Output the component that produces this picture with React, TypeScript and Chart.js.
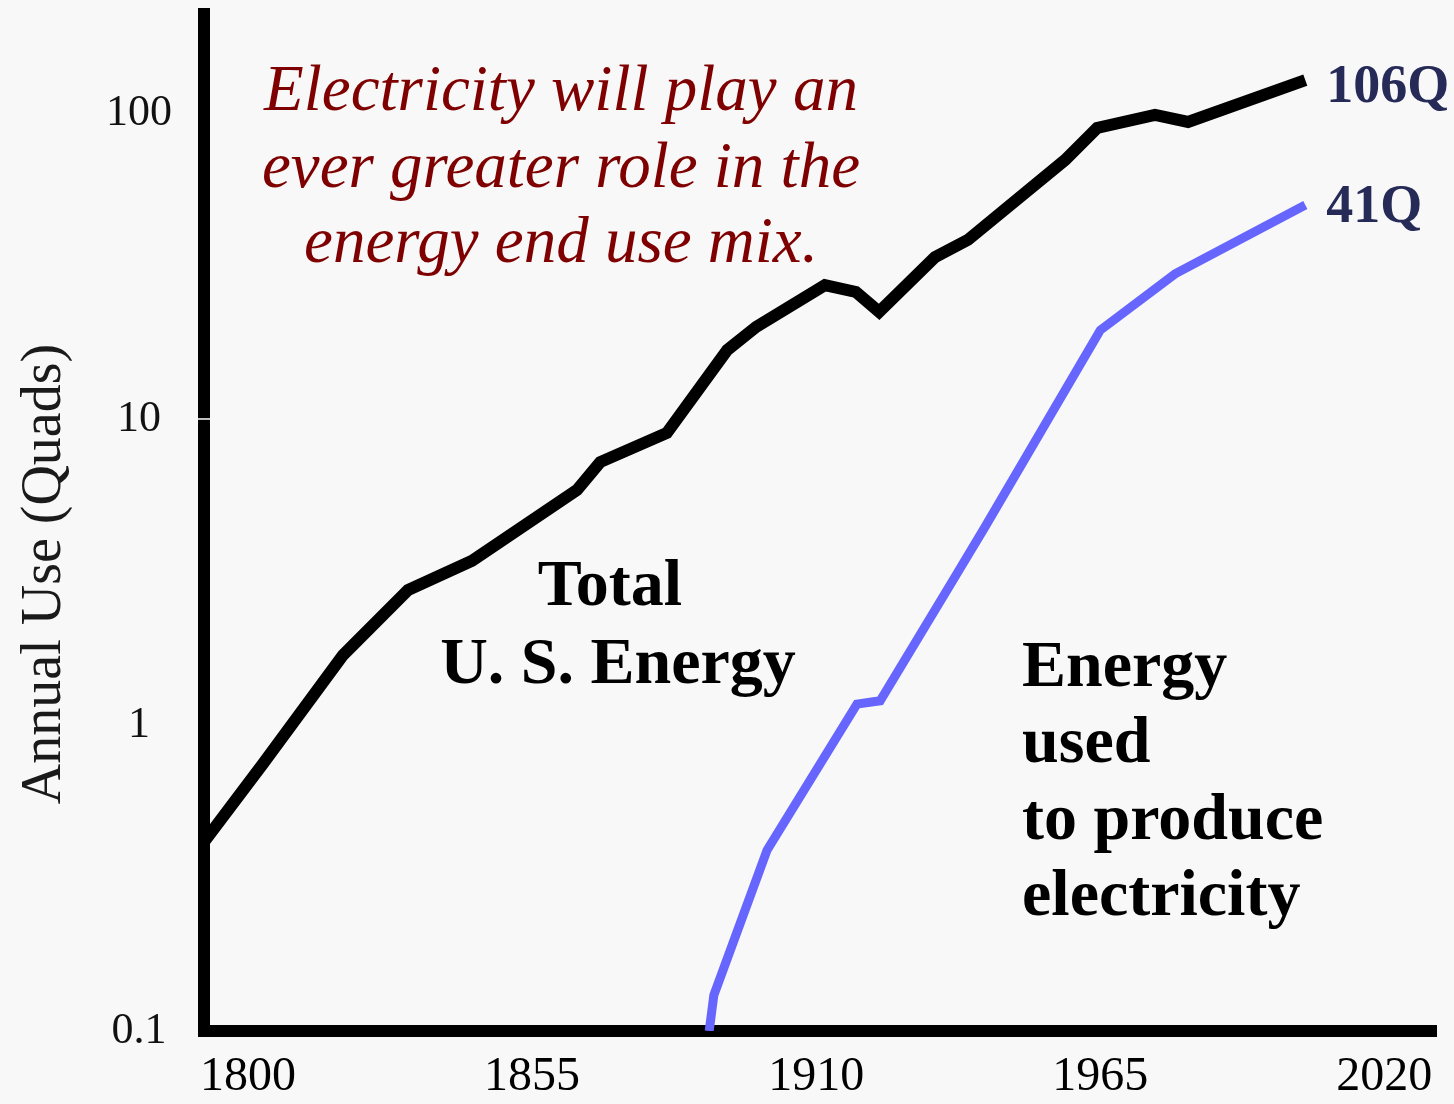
import React, { useEffect, useRef } from 'react';
import { Chart, registerables } from 'chart.js';

Chart.register(...registerables);

// ---- data ----
const totalYears = [1791.5, 1802.9, 1818.4, 1831.0, 1843.4, 1863.7, 1868.2, 1881.1, 1892.8, 1898.4, 1911.7, 1917.7, 1922.2, 1933.0, 1939.4, 1958.2, 1964.4, 1975.6, 1982.0, 2004.7];
const totalQuads = [0.415, 0.746, 1.69, 2.76, 3.44, 5.86, 7.23, 9.0, 16.8, 20.0, 27.4, 26.0, 22.4, 33.8, 38.5, 70.2, 89.3, 98.5, 93.5, 128];
const electricYears = [1889.3, 1890.2, 1900.5, 1917.9, 1922.4, 1936.9, 1942.7, 1965.0, 1979.5, 2004.7];
const electricQuads = [0.1, 0.131, 0.39, 1.17, 1.2, 3.05, 4.44, 19.5, 29.8, 50.0];
const xTicks = [1800, 1855, 1910, 1965, 2020];
const yTicks = [0.1, 1, 10, 100];
const yTickLabels = ['0.1', '1', '10', '100'];
const endLabels = ['106Q', '41Q'];
const yTitle = 'Annual Use (Quads)';
const noteLines = ['Electricity will play an', 'ever greater role in the', 'energy end use mix.'];
const totalLabelLines = ['Total', 'U. S. Energy'];
const electricLabelLines = ['Energy', 'used', 'to produce', 'electricity'];

const SERIF = '"Liberation Serif", "DejaVu Serif", serif';

const bgPlugin = {
  id: 'bgFill',
  beforeDraw(chart: any) {
    const { ctx, width, height } = chart;
    ctx.save();
    ctx.fillStyle = '#f8f8f8';
    ctx.fillRect(0, 0, width, height);
    ctx.restore();
  },
};

const textPlugin = {
  id: 'texts',
  afterDraw(chart: any) {
    const { ctx, chartArea } = chart;
    const xs = chart.scales.x;
    const ys = chart.scales.y;
    ctx.save();

    // white notch on y axis at 10
    const y10 = ys.getPixelForValue(10);
    ctx.strokeStyle = '#ffffff';
    ctx.lineWidth = 1.5;
    ctx.beginPath();
    ctx.moveTo(chartArea.left - 6, y10);
    ctx.lineTo(chartArea.left + 6, y10);
    ctx.stroke();

    // y title
    ctx.save();
    ctx.translate(60, 574);
    ctx.rotate(-Math.PI / 2);
    ctx.fillStyle = '#1a1a1a';
    ctx.font = `56px ${SERIF}`;
    ctx.textAlign = 'center';
    ctx.textBaseline = 'alphabetic';
    ctx.fillText(yTitle, 0, 0);
    ctx.restore();

    // italic note
    ctx.fillStyle = '#7f0000';
    ctx.font = `italic 65px ${SERIF}`;
    ctx.textAlign = 'center';
    ctx.textBaseline = 'alphabetic';
    const noteBase = [110, 187, 262];
    noteLines.forEach((t, i) => ctx.fillText(t, 561, noteBase[i]));

    // Total label
    ctx.fillStyle = '#000000';
    ctx.font = `bold 66px ${SERIF}`;
    const totBase = [605, 683];
    const totX = [610, 618];
    totalLabelLines.forEach((t, i) => ctx.fillText(t, totX[i], totBase[i]));

    // electricity label
    ctx.textAlign = 'left';
    const elBase = [686, 762, 839, 915];
    electricLabelLines.forEach((t, i) => ctx.fillText(t, 1022, elBase[i]));

    // end labels
    ctx.fillStyle = '#252a57';
    ctx.font = `bold 54px ${SERIF}`;
    const tx = xs.getPixelForValue(totalYears[totalYears.length - 1]);
    const ty = ys.getPixelForValue(totalQuads[totalQuads.length - 1]);
    ctx.fillText(endLabels[0], tx + 21, ty + 22);
    const ex = xs.getPixelForValue(electricYears[electricYears.length - 1]);
    const ey = ys.getPixelForValue(electricQuads[electricQuads.length - 1]);
    ctx.fillText(endLabels[1], ex + 21, ey + 17);

    ctx.restore();
  },
};

export default function App() {
  const ref = useRef<HTMLCanvasElement | null>(null);

  useEffect(() => {
    if (!ref.current) return;
    const chart = new Chart(ref.current, {
      type: 'line',
      data: {
        datasets: [
          {
            label: 'Total U. S. Energy',
            data: totalYears.map((x, i) => ({ x, y: totalQuads[i] })),
            borderColor: '#000000',
            borderWidth: 12,
            pointRadius: 0,
            tension: 0,
            fill: false,
          },
          {
            label: 'Energy used to produce electricity',
            data: electricYears.map((x, i) => ({ x, y: electricQuads[i] })),
            borderColor: '#6666ff',
            borderWidth: 9,
            pointRadius: 0,
            tension: 0,
            fill: false,
          },
        ],
      },
      options: {
        animation: false,
        responsive: false,
        devicePixelRatio: 1,
        layout: { padding: { left: 0, right: 18, top: 14, bottom: 0 } },
        plugins: {
          legend: { display: false },
          tooltip: { enabled: false },
          title: { display: false },
        },
        scales: {
          x: {
            type: 'linear',
            min: 1791.5,
            max: 2030,
            border: { display: true, width: 12, color: '#000000' },
            grid: { display: false, drawTicks: false },
            ticks: {
              color: '#000000',
              font: { family: SERIF, size: 48 },
              padding: 18,
              maxRotation: 0,
              autoSkip: false,
              callback: (v: any) => String(v),
            },
            afterBuildTicks: (scale: any) => {
              scale.ticks = xTicks.map((v) => ({ value: v }));
            },
            afterFit: (scale: any) => {
              scale.height = 73;
              scale.paddingLeft = 0;
              scale.paddingRight = 0;
            },
          },
          y: {
            type: 'logarithmic',
            min: 0.1,
            max: 210.6,
            border: { display: true, width: 12, color: '#000000' },
            grid: { display: false, drawTicks: false },
            ticks: {
              color: '#111111',
              font: { family: SERIF, size: 44 },
              padding: 32,
              crossAlign: 'center',
              autoSkip: false,
              callback: (v: any) => {
                const i = yTicks.indexOf(Number(v));
                return i >= 0 ? yTickLabels[i] : '';
              },
            },
            afterBuildTicks: (scale: any) => {
              scale.ticks = yTicks.map((v) => ({ value: v }));
            },
            afterFit: (scale: any) => {
              scale.width = 204;
              scale.paddingTop = 0;
              scale.paddingBottom = 0;
            },
          },
        },
      } as any,
      plugins: [bgPlugin, textPlugin],
    });
    return () => chart.destroy();
  }, []);

  return (
    <div style={{ position: 'fixed', left: 0, top: 0, width: 1454, height: 1104 }}>
      <canvas ref={ref} width={1454} height={1104} style={{ display: 'block' }} />
    </div>
  );
}
